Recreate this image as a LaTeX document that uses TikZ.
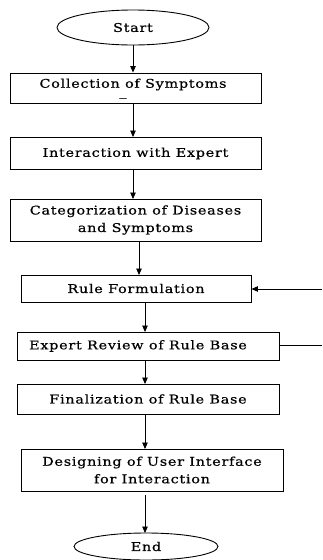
\documentclass[tikz,border=0pt]{standalone}
\usepackage{fontspec}
\setmainfont{DejaVu Serif}[FakeStretch=1.2,LetterSpace=6,FakeBold=0.6]
\usetikzlibrary{shapes.geometric,arrows.meta}
\begin{document}
\begin{tikzpicture}[x=1pt,y=-1pt,
  box/.style={draw,line width=0.9pt,inner sep=0pt,align=center,font=\fontsize{12}{17.5}\selectfont},
  oval/.style={draw,ellipse,line width=0.9pt,inner sep=0pt,font=\fontsize{12}{13}\selectfont},
  txt/.style={inner sep=0pt,font=\fontsize{12}{13}\selectfont},
  arr/.style={line width=0.9pt,-{Triangle[length=6.5pt,width=5.5pt]}}]
\useasboundingbox (0,0) rectangle (322,560);
\node[oval,minimum width=152pt,minimum height=35pt] (start) at (133,27.5) {Start};
\node[box,minimum width=251pt,minimum height=30pt] (coll) at (135.5,88) {};
\node[txt] (colltxt) at (133,84.5) {Collection of Symptoms};
\node[txt,anchor=base,text height=0pt,text depth=2pt] (us) at (123,96) {\_};
\node[box,minimum width=251pt,minimum height=32pt] (inter) at (135.5,153.5) {Interaction with Expert};
\node[box,minimum width=251pt,minimum height=42pt] (cat) at (135.5,220) {Categorization of Diseases\\and Symptoms};
\node[box,minimum width=230pt,minimum height=27pt] (rule) at (136,288.5) {Rule Formulation};
\node[box,minimum width=262pt,minimum height=28pt] (rev) at (148,346) {\hspace*{-20pt}Expert Review of Rule Base};
\node[box,minimum width=262pt,minimum height=30pt] (fin) at (148,399) {Finalization of Rule Base};
\node[box,minimum width=262pt,minimum height=42pt] (des) at (152,470) {Designing of User Interface\\for Interaction};
\node[oval,minimum width=144pt,minimum height=27pt] (end) at (146,546.5) {End};
\coordinate (rin) at (322,289);
\coordinate (rout) at (322,345);
\draw[arr] (start.south) -- (coll.north -| start.south);
\draw[arr] (133,103) -- (133,137);
\draw[arr] (133,169.5) -- (133,199);
\draw[arr] (139,241) -- (139,275);
\draw[arr] (145,302) -- (145,332);
\draw[arr] (145,360) -- (145,384);
\draw[arr] (145,414) -- (145,449);
\draw[arr] (145,495) -- (145,533);
\draw[arr] (rin) -- (rule.east |- rin);
\draw[line width=0.9pt] (rev.east |- rout) -- (rout);
\end{tikzpicture}
\end{document}
